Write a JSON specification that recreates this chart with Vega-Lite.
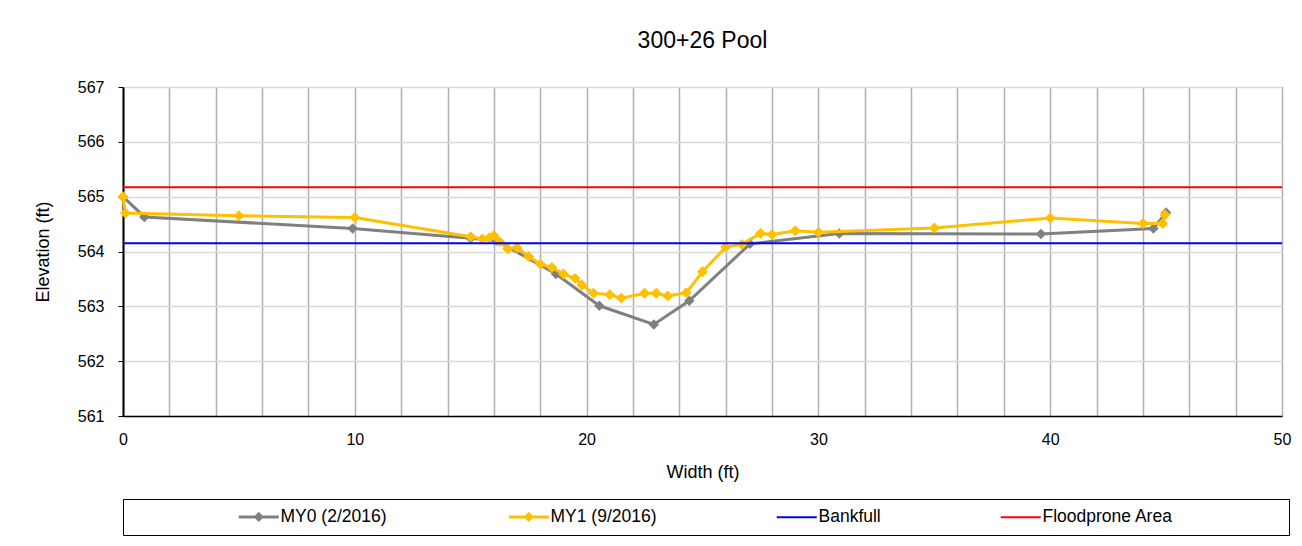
{
  "$schema": "https://vega.github.io/schema/vega-lite/v6.json",
  "width": 1159,
  "height": 329,
  "autosize": {"type": "none"},
  "padding": {"left": 123, "top": 87, "right": 20, "bottom": 130},
  "background": "white",
  "title": {"text": "300+26 Pool", "fontSize": 23, "font": "Liberation Sans", "fontWeight": "normal", "color": "#000000", "anchor": "middle", "offset": 26},
  "config": {
    "view": {"stroke": "#000000", "strokeWidth": 1},
    "font": "Liberation Sans"
  },
  "data": {
    "values": [
      {"series": "MY0 (2/2016)", "x": 0, "y": 565.0},
      {"series": "MY0 (2/2016)", "x": 0.92, "y": 564.63},
      {"series": "MY0 (2/2016)", "x": 9.91, "y": 564.42},
      {"series": "MY0 (2/2016)", "x": 15.0, "y": 564.24},
      {"series": "MY0 (2/2016)", "x": 16.1, "y": 564.2},
      {"series": "MY0 (2/2016)", "x": 18.68, "y": 563.59},
      {"series": "MY0 (2/2016)", "x": 20.55, "y": 563.01},
      {"series": "MY0 (2/2016)", "x": 22.9, "y": 562.67},
      {"series": "MY0 (2/2016)", "x": 24.43, "y": 563.1},
      {"series": "MY0 (2/2016)", "x": 27.05, "y": 564.14},
      {"series": "MY0 (2/2016)", "x": 30.9, "y": 564.33},
      {"series": "MY0 (2/2016)", "x": 39.6, "y": 564.32},
      {"series": "MY0 (2/2016)", "x": 44.45, "y": 564.42},
      {"series": "MY0 (2/2016)", "x": 45.0, "y": 564.71},
      {"series": "MY1 (9/2016)", "x": 0, "y": 565.0},
      {"series": "MY1 (9/2016)", "x": 0.1, "y": 564.7},
      {"series": "MY1 (9/2016)", "x": 5.0, "y": 564.65},
      {"series": "MY1 (9/2016)", "x": 10.0, "y": 564.62},
      {"series": "MY1 (9/2016)", "x": 15.0, "y": 564.27},
      {"series": "MY1 (9/2016)", "x": 15.5, "y": 564.23},
      {"series": "MY1 (9/2016)", "x": 15.8, "y": 564.25},
      {"series": "MY1 (9/2016)", "x": 16.0, "y": 564.29},
      {"series": "MY1 (9/2016)", "x": 16.25, "y": 564.18},
      {"series": "MY1 (9/2016)", "x": 16.6, "y": 564.05},
      {"series": "MY1 (9/2016)", "x": 17.0, "y": 564.07},
      {"series": "MY1 (9/2016)", "x": 17.5, "y": 563.91},
      {"series": "MY1 (9/2016)", "x": 18.0, "y": 563.77},
      {"series": "MY1 (9/2016)", "x": 18.5, "y": 563.71},
      {"series": "MY1 (9/2016)", "x": 19.0, "y": 563.59},
      {"series": "MY1 (9/2016)", "x": 19.5, "y": 563.51},
      {"series": "MY1 (9/2016)", "x": 19.8, "y": 563.39},
      {"series": "MY1 (9/2016)", "x": 20.3, "y": 563.24},
      {"series": "MY1 (9/2016)", "x": 21.0, "y": 563.21},
      {"series": "MY1 (9/2016)", "x": 21.5, "y": 563.15},
      {"series": "MY1 (9/2016)", "x": 22.5, "y": 563.24},
      {"series": "MY1 (9/2016)", "x": 23.0, "y": 563.24},
      {"series": "MY1 (9/2016)", "x": 23.5, "y": 563.19},
      {"series": "MY1 (9/2016)", "x": 24.3, "y": 563.25},
      {"series": "MY1 (9/2016)", "x": 25.0, "y": 563.63},
      {"series": "MY1 (9/2016)", "x": 26.0, "y": 564.08},
      {"series": "MY1 (9/2016)", "x": 26.7, "y": 564.13},
      {"series": "MY1 (9/2016)", "x": 27.5, "y": 564.33},
      {"series": "MY1 (9/2016)", "x": 28.0, "y": 564.31},
      {"series": "MY1 (9/2016)", "x": 29.0, "y": 564.38},
      {"series": "MY1 (9/2016)", "x": 30.0, "y": 564.35},
      {"series": "MY1 (9/2016)", "x": 35.0, "y": 564.43},
      {"series": "MY1 (9/2016)", "x": 40.0, "y": 564.61},
      {"series": "MY1 (9/2016)", "x": 44.0, "y": 564.51},
      {"series": "MY1 (9/2016)", "x": 44.85, "y": 564.51},
      {"series": "MY1 (9/2016)", "x": 44.95, "y": 564.67},
      {"series": "Bankfull", "x": 0, "y": 564.15},
      {"series": "Bankfull", "x": 50, "y": 564.15},
      {"series": "Floodprone Area", "x": 0, "y": 565.17},
      {"series": "Floodprone Area", "x": 50, "y": 565.17}
    ]
  },
  "encoding": {
    "x": {
      "field": "x", "type": "quantitative",
      "scale": {"domain": [0, 50], "nice": false, "zero": false},
      "axis": {
        "title": "Width (ft)", "titleFontSize": 18, "titleFontWeight": "normal", "titleColor": "#000000", "titlePadding": 16,
        "values": [0, 2, 4, 6, 8, 10, 12, 14, 16, 18, 20, 22, 24, 26, 28, 30, 32, 34, 36, 38, 40, 42, 44, 46, 48, 50],
        "labelExpr": "datum.value % 10 == 0 ? datum.label : ''",
        "labelFontSize": 16, "labelColor": "#000000", "labelFlush": false, "labelOverlap": false, "labelPadding": 15,
        "ticks": false,
        "domainColor": "#000000", "domainWidth": 1.5,
        "grid": true, "gridColor": "#B0B0B0", "gridWidth": 1.5
      }
    },
    "y": {
      "field": "y", "type": "quantitative",
      "scale": {"domain": [561, 567], "nice": false, "zero": false},
      "axis": {
        "title": "Elevation (ft)", "titleFontSize": 18, "titleFontWeight": "normal", "titleColor": "#000000", "titlePadding": 25,
        "values": [561, 562, 563, 564, 565, 566, 567],
        "labelFontSize": 16, "labelColor": "#000000", "labelFlush": false, "labelPadding": 14,
        "ticks": true, "tickSize": 5, "tickColor": "#000000", "tickWidth": 1,
        "domainColor": "#000000", "domainWidth": 2,
        "grid": true, "gridColor": "#D9D9D9", "gridWidth": 1.5
      }
    },
    "color": {
      "field": "series", "type": "nominal",
      "scale": {
        "domain": ["MY0 (2/2016)", "MY1 (9/2016)", "Bankfull", "Floodprone Area"],
        "range": ["#808080", "#FFC000", "#0000FF", "#FF0000"]
      },
      "legend": {
        "orient": "none", "legendX": 0, "legendY": 412, "direction": "horizontal",
        "title": "\u00a0", "titleOrient": "left", "titlePadding": 118, "titleFontSize": 17.5,
        "strokeColor": "#000000", "fillColor": "#ffffff", "padding": 9,
        "labelFontSize": 17.5, "labelColor": "#000000", "labelFont": "Liberation Sans", "labelLimit": 600, "labelOffset": 13,
        "columnPadding": 115, "symbolSize": 400,
        "labelExpr": "datum.value == 'Floodprone Area' ? pad(datum.label, 37) + '\u200b' : datum.label",
        "encode": {
          "symbols": {
            "update": {
              "shape": {"signal": "datum.value == 'Bankfull' || datum.value == 'Floodprone Area' ? 'M-2,0L2,0' : 'M-2,0L2,0M0,-0.3L0.3,0L0,0.3L-0.3,0Z'"},
              "fill": {"signal": "scale('color', datum.value)"},
              "stroke": {"signal": "scale('color', datum.value)"},
              "strokeWidth": {"signal": "datum.value == 'Bankfull' || datum.value == 'Floodprone Area' ? 2 : 3"},
              "opacity": {"value": 1},
              "fillOpacity": {"value": 1},
              "strokeOpacity": {"value": 1}
            }
          }
        }
      }
    }
  },
  "layer": [
    {
      "transform": [{"filter": "datum.series == 'MY0 (2/2016)'"}],
      "mark": {"type": "line", "strokeWidth": 3},
      "encoding": {}
    },
    {
      "transform": [{"filter": "datum.series == 'MY0 (2/2016)'"}],
      "mark": {"type": "point", "shape": "diamond", "filled": true, "size": 110, "opacity": 1},
      "encoding": {}
    },
    {
      "transform": [{"filter": "datum.series == 'MY1 (9/2016)'"}],
      "mark": {"type": "line", "strokeWidth": 3},
      "encoding": {}
    },
    {
      "transform": [{"filter": "datum.series == 'MY1 (9/2016)'"}],
      "mark": {"type": "point", "shape": "diamond", "filled": true, "size": 120, "opacity": 1},
      "encoding": {}
    },
    {
      "transform": [{"filter": "datum.series == 'Bankfull'"}],
      "mark": {"type": "line", "strokeWidth": 2},
      "encoding": {}
    },
    {
      "transform": [{"filter": "datum.series == 'Floodprone Area'"}],
      "mark": {"type": "line", "strokeWidth": 2},
      "encoding": {}
    }
  ]
}
